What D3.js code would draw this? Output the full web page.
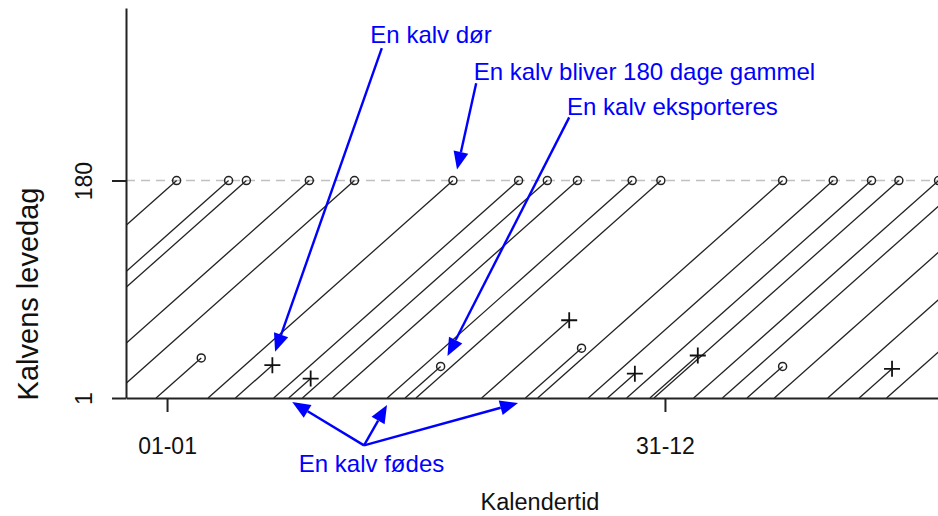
<!DOCTYPE html>
<html>
<head>
<meta charset="utf-8">
<script src="https://cdnjs.cloudflare.com/ajax/libs/d3/7.8.5/d3.min.js"></script>
<style>
  body { margin: 0; background: #fff; }
  svg { display: block; }
  text { font-family: "Liberation Sans", Arial, sans-serif; }
</style>
</head>
<body>
<div id="chart"></div>
<script>
// Lexis diagram: one line per calf, from birth (age 1) to exit
const birth  = [-171, -133, -120, -74, -41, -7, 31, 51, 79, 90, 100, 122, 162, 175, 183,
                231, 263, 272, 309, 323, 337, 354, 357, 386, 407, 425, 445, 484, 507, 527];
const exit   = [8, 46, 59, 105, 138, 26, 210, 78, 258, 106, 279, 301, 341, 201, 362,
                295, 304, 451, 488, 343, 516, 389, 536, 565, 565, 451, 565, 565, 531, 565];
// "180" = bliver 180 dage, "død" = dør, "eksport" = eksporteres, "aktiv" = stadig i live
const status = ["180", "180", "180", "180", "180", "eksport", "180", "død", "180", "død",
                "180", "180", "180", "eksport", "180", "død", "eksport", "180", "180", "død",
                "180", "død", "180", "180", "aktiv", "eksport", "aktiv", "aktiv", "død", "aktiv"];

const xTicks = [1, 365];
const xTickLabels = ["01-01", "31-12"];
const yTicks = [1, 180];
const refAge = 180;

// annotations in data units (day, age)
const noteText = ["En kalv dør", "En kalv bliver 180 dage gammel", "En kalv eksporteres", "En kalv fødes"];
const noteX = [194, 350, 370.5, 150.5];
const noteY = [293, 263, 234, -60];
const arrowFrom = [[158, 289], [227, 260], [295, 232], [145, -38], [145, -38], [145, -38]];
const arrowTo   = [[80, 39], [213, 189], [206, 35.5], [92.5, -2.3], [161.8, -4.7], [257.6, -3.1]];

const width = 938, height = 516;
const margin = {top: 8, right: 0, bottom: 117, left: 126};

const svg = d3.select("#chart")
    .append("svg")
    .attr("width", width)
    .attr("height", height);

svg.append("rect").attr("width", width).attr("height", height).attr("fill", "#fff");

const x = d3.scaleLinear()
    .domain([-29, 564.6])
    .range([margin.left, width - margin.right]);

const y = d3.scaleLinear()
    .domain([1, 322])
    .range([height - margin.bottom - 1, margin.top]);

const x0 = x.range()[0], x1 = x.range()[1];
const y0 = y.range()[0], y1 = y.range()[1];

svg.append("clipPath").attr("id", "plot")
    .append("rect")
    .attr("x", x0).attr("y", y1)
    .attr("width", x1 - x0).attr("height", y0 - y1);

// dashed reference line at 180 days
svg.append("line")
    .attr("x1", x0).attr("x2", x1)
    .attr("y1", y(refAge)).attr("y2", y(refAge))
    .attr("stroke", "#c0c0c0")
    .attr("stroke-width", 1.5)
    .attr("stroke-dasharray", "9,6");

const calves = birth.map((b, i) => ({b: b, e: exit[i], s: status[i], age: exit[i] - b + 1}));

// life lines
svg.append("g")
    .attr("clip-path", "url(#plot)")
    .selectAll("line")
    .data(calves)
    .join("line")
    .attr("x1", d => x(d.b))
    .attr("y1", d => y(1))
    .attr("x2", d => x(d.e))
    .attr("y2", d => y(d.age))
    .attr("stroke", "#222")
    .attr("stroke-width", 1.3);

// circles: 180 dage / eksport
svg.append("g")
    .selectAll("circle")
    .data(calves.filter(d => d.s === "180" || d.s === "eksport"))
    .join("circle")
    .attr("cx", d => x(d.e))
    .attr("cy", d => y(d.age))
    .attr("r", 4)
    .attr("fill", "none")
    .attr("stroke", "#222")
    .attr("stroke-width", 1.5);

// plus: død
svg.append("g")
    .selectAll("path")
    .data(calves.filter(d => d.s === "død"))
    .join("path")
    .attr("d", d => {
        const cx = x(d.e), cy = y(d.age), h = 8;
        return `M${cx - h},${cy}H${cx + h}M${cx},${cy - h}V${cy + h}`;
    })
    .attr("stroke", "#111")
    .attr("stroke-width", 1.8);

// axes
const xAxis = svg.append("g")
    .attr("transform", `translate(0,${y0})`)
    .call(d3.axisBottom(x).tickValues(xTicks).tickSize(14).tickSizeOuter(0)
        .tickFormat((d, i) => xTickLabels[i]));

xAxis.select(".domain").attr("stroke", "#222").attr("stroke-width", 2);
xAxis.selectAll(".tick line").attr("stroke", "#222").attr("stroke-width", 2);
xAxis.selectAll(".tick text")
    .attr("y", 56).attr("dy", null)
    .attr("fill", "#111")
    .style("font-size", "23px");

const yAxis = svg.append("g")
    .attr("transform", `translate(${x0},0)`)
    .call(d3.axisLeft(y).tickValues(yTicks).tickSize(14).tickSizeOuter(0));

yAxis.select(".domain").attr("stroke", "#222").attr("stroke-width", 2);
yAxis.selectAll(".tick line").attr("stroke", "#222").attr("stroke-width", 2);
yAxis.selectAll(".tick text")
    .attr("x", null).attr("dy", null)
    .attr("text-anchor", "middle")
    .attr("transform", "translate(-34,0) rotate(-90)")
    .attr("fill", "#111")
    .style("font-size", "23px");

// axis titles
svg.append("text")
    .attr("x", 540).attr("y", 510)
    .attr("text-anchor", "middle")
    .attr("fill", "#111")
    .style("font-size", "23.5px")
    .text("Kalendertid");

svg.append("text")
    .attr("transform", "translate(38,294) rotate(-90)")
    .attr("text-anchor", "middle")
    .attr("fill", "#111")
    .style("font-size", "29px")
    .text("Kalvens levedag");

// annotations
const blue = "#0000ff";
svg.append("g")
    .selectAll("text")
    .data(noteText)
    .join("text")
    .attr("x", (d, i) => x(noteX[i]))
    .attr("y", (d, i) => y(noteY[i]))
    .attr("text-anchor", "middle")
    .attr("fill", blue)
    .style("font-size", "24px")
    .text(d => d);

const arrowG = svg.append("g");
arrowFrom.forEach((f, i) => {
    const ax = x(f[0]), ay = y(f[1]);
    const bx = x(arrowTo[i][0]), by = y(arrowTo[i][1]);
    const ang = Math.atan2(by - ay, bx - ax);
    const L = 18, W = 7.5;
    const cx = bx - L * Math.cos(ang), cy = by - L * Math.sin(ang);
    const px = -Math.sin(ang) * W, py = Math.cos(ang) * W;
    arrowG.append("line")
        .attr("x1", ax).attr("y1", ay)
        .attr("x2", cx).attr("y2", cy)
        .attr("stroke", blue)
        .attr("stroke-width", 2.4);
    arrowG.append("path")
        .attr("d", `M${bx},${by}L${cx + px},${cy + py}L${cx - px},${cy - py}Z`)
        .attr("fill", blue);
});
</script>
</body>
</html>
